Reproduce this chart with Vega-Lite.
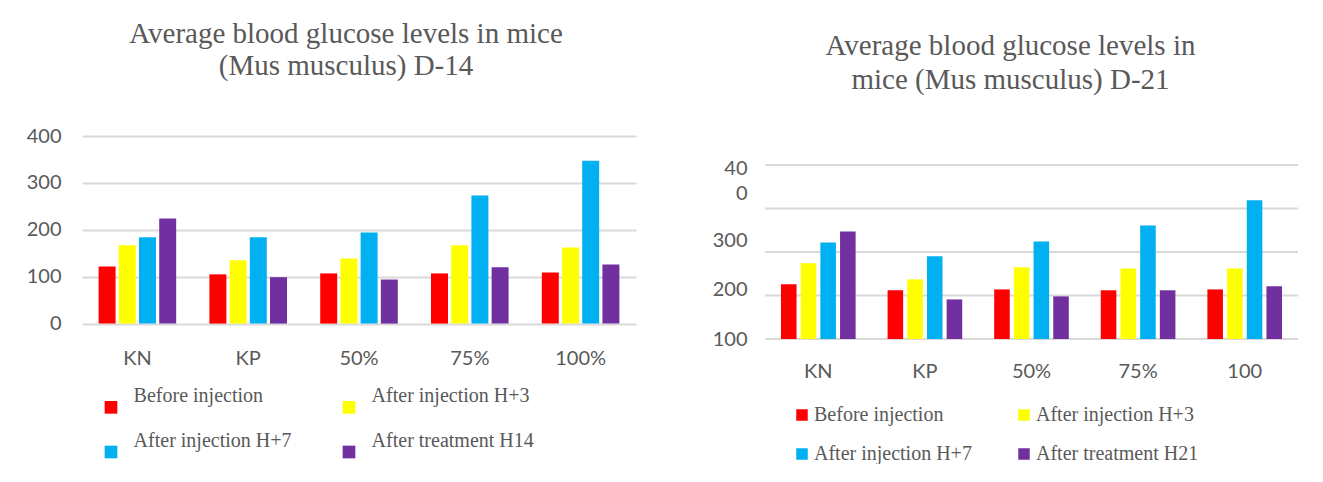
{
  "$schema": "https://vega.github.io/schema/vega-lite/v6.json",
  "background": "white",
  "padding": {"left": 26, "top": 20, "right": 0, "bottom": 0},
  "spacing": 129,
  "bounds": "flush",
  "config": {
    "view": {"stroke": null},
    "title": {"font": "Liberation Serif", "fontSize": 29, "fontWeight": "normal", "color": "#595959", "anchor": "middle", "frame": "group"},
    "axis": {"labelFont": "Lato", "labelFontSize": 20, "labelColor": "#595959", "domain": false, "ticks": false, "title": null}
  },
  "datasets": {
    "d14": [
      {"group": "KN", "series": "Before injection", "value": 122},
      {"group": "KN", "series": "After injection H+3", "value": 167},
      {"group": "KN", "series": "After injection H+7", "value": 184},
      {"group": "KN", "series": "After treatment H14", "value": 224},
      {"group": "KP", "series": "Before injection", "value": 105},
      {"group": "KP", "series": "After injection H+3", "value": 135},
      {"group": "KP", "series": "After injection H+7", "value": 184},
      {"group": "KP", "series": "After treatment H14", "value": 99},
      {"group": "50%", "series": "Before injection", "value": 107},
      {"group": "50%", "series": "After injection H+3", "value": 139},
      {"group": "50%", "series": "After injection H+7", "value": 194},
      {"group": "50%", "series": "After treatment H14", "value": 94},
      {"group": "75%", "series": "Before injection", "value": 107},
      {"group": "75%", "series": "After injection H+3", "value": 167},
      {"group": "75%", "series": "After injection H+7", "value": 273},
      {"group": "75%", "series": "After treatment H14", "value": 120},
      {"group": "100%", "series": "Before injection", "value": 109},
      {"group": "100%", "series": "After injection H+3", "value": 162},
      {"group": "100%", "series": "After injection H+7", "value": 347},
      {"group": "100%", "series": "After treatment H14", "value": 126}
    ],
    "d21": [
      {"group": "KN", "series": "Before injection", "value": 126},
      {"group": "KN", "series": "After injection H+3", "value": 174},
      {"group": "KN", "series": "After injection H+7", "value": 222},
      {"group": "KN", "series": "After treatment H21", "value": 247},
      {"group": "KP", "series": "Before injection", "value": 112},
      {"group": "KP", "series": "After injection H+3", "value": 137},
      {"group": "KP", "series": "After injection H+7", "value": 190},
      {"group": "KP", "series": "After treatment H21", "value": 91},
      {"group": "50%", "series": "Before injection", "value": 114},
      {"group": "50%", "series": "After injection H+3", "value": 165},
      {"group": "50%", "series": "After injection H+7", "value": 224},
      {"group": "50%", "series": "After treatment H21", "value": 98},
      {"group": "75%", "series": "Before injection", "value": 112},
      {"group": "75%", "series": "After injection H+3", "value": 162},
      {"group": "75%", "series": "After injection H+7", "value": 261},
      {"group": "75%", "series": "After treatment H21", "value": 112},
      {"group": "100", "series": "Before injection", "value": 114},
      {"group": "100", "series": "After injection H+3", "value": 162},
      {"group": "100", "series": "After injection H+7", "value": 319},
      {"group": "100", "series": "After treatment H21", "value": 121}
    ],
    "grid21": [{"g": 0}, {"g": 100}, {"g": 200}, {"g": 300}, {"g": 400}]
  },
  "resolve": {"scale": {"color": "independent", "x": "independent", "y": "independent", "xOffset": "independent"}, "legend": {"color": "independent"}},
  "hconcat": [
    {
      "width": 554,
      "height": 187.6,
      "title": {"text": ["Average blood glucose levels in mice", "(Mus musculus) D-14"], "lineHeight": 32, "dx": -13, "offset": 45},
      "data": {"name": "d14"},
      "mark": {"type": "bar"},
      "encoding": {
        "x": {"field": "group", "type": "nominal", "sort": ["KN", "KP", "50%", "75%", "100%"],
              "scale": {"paddingInner": 0.3, "paddingOuter": 0.15},
              "axis": {"labelAngle": 0, "labelPadding": 25, "grid": false}},
        "xOffset": {"field": "series", "type": "nominal",
              "scale": {"domain": ["Before injection", "After injection H+3", "After injection H+7", "After treatment H14"], "paddingInner": 0.16, "paddingOuter": 0}},
        "y": {"field": "value", "type": "quantitative",
              "scale": {"domain": [0, 400], "nice": false},
              "axis": {"values": [0, 100, 200, 300, 400], "grid": true, "gridColor": "#d9d9d9", "gridWidth": 2, "labelPadding": 21}},
        "color": {"field": "series", "type": "nominal",
              "scale": {"domain": ["Before injection", "After injection H+3", "After injection H+7", "After treatment H14"], "range": ["#FF0000", "#FFFF00", "#00B0F0", "#7030A0"]},
              "legend": {"orient": "none", "legendX": 19, "legendY": 261, "direction": "horizontal", "columns": 2, "title": null,
                         "symbolType": "square", "symbolSize": 161, "symbolStrokeWidth": 0,
                         "labelFont": "Liberation Serif", "labelFontSize": 20, "labelColor": "#595959", "labelLimit": 400,
                         "labelOffset": 12.6, "columnPadding": 47, "rowPadding": 17, "padding": 0,
                         "labelBaseline": "line-bottom", "labelLineHeight": 26}}
      }
    },
    {
      "width": 533,
      "height": 203,
      "title": {"text": ["Average blood glucose levels in", "mice (Mus musculus) D-21"], "lineHeight": 34, "dx": -21, "offset": 41.5},
      "layer": [
        {
          "data": {"name": "grid21"},
          "mark": {"type": "rule", "color": "#d9d9d9", "strokeWidth": 2},
          "encoding": {
            "y": {"field": "g", "type": "quantitative", "scale": {"domain": [0, 466.7], "nice": false},
                  "axis": {"values": [0, 114, 227, 334, 393], "grid": false, "labelPadding": 18,
                           "labelExpr": "datum.value == 0 ? '100' : datum.value == 114 ? '200' : datum.value == 227 ? '300' : datum.value == 334 ? '0' : '40'"}}
          }
        },
        {
          "data": {"name": "d21"},
          "mark": {"type": "bar"},
          "encoding": {
            "x": {"field": "group", "type": "nominal", "sort": ["KN", "KP", "50%", "75%", "100"],
                  "scale": {"paddingInner": 0.3, "paddingOuter": 0.15},
                  "axis": {"labelAngle": 0, "labelPadding": 22.5, "grid": false}},
            "xOffset": {"field": "series", "type": "nominal",
                  "scale": {"domain": ["Before injection", "After injection H+3", "After injection H+7", "After treatment H21"], "paddingInner": 0.21, "paddingOuter": 0}},
            "y": {"field": "value", "type": "quantitative", "scale": {"domain": [0, 466.7], "nice": false},
                  "axis": {"values": [0, 114, 227, 334, 393], "grid": false, "labelPadding": 18,
                           "labelExpr": "datum.value == 0 ? '100' : datum.value == 114 ? '200' : datum.value == 227 ? '300' : datum.value == 334 ? '0' : '40'"}},
            "color": {"field": "series", "type": "nominal",
                  "scale": {"domain": ["Before injection", "After injection H+3", "After injection H+7", "After treatment H21"], "range": ["#FF0000", "#FFFF00", "#00B0F0", "#7030A0"]},
                  "legend": {"orient": "none", "legendX": 27, "legendY": 269, "direction": "horizontal", "columns": 2, "title": null,
                             "symbolType": "square", "symbolSize": 132, "symbolStrokeWidth": 0,
                             "labelFont": "Liberation Serif", "labelFontSize": 20, "labelColor": "#595959", "labelLimit": 400,
                             "labelOffset": 2, "columnPadding": 42, "rowPadding": 19, "padding": 0,
                             "labelBaseline": "middle"}}
          }
        }
      ]
    }
  ]
}
